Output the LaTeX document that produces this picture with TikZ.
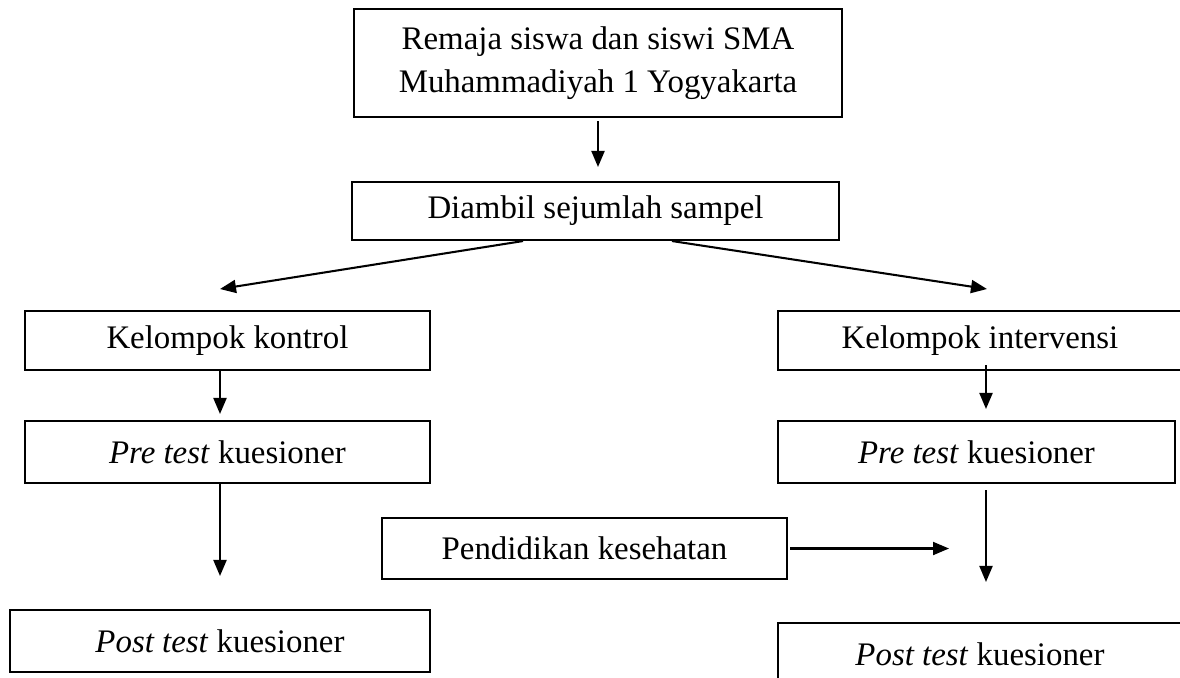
\documentclass[tikz,border=0pt]{standalone}
\usepackage{fontspec}
\setmainfont{Liberation Serif}
\usepackage{tikz}
\usetikzlibrary{positioning}
\usetikzlibrary{arrows.meta}
% one pixel of the layout
\newcommand{\pw}[1]{#1*0.365pt}
\tikzset {
  x=0.365pt, y=-0.365pt,
  % boxed step
  box/.style = {draw, rectangle, line width=0.75pt, inner sep=0pt, align=center,
    font=\fontsize{12}{15.7}\selectfont},
  % arrows between boxes
  arr/.style = {line width=0.75pt, -{Triangle[length=\pw{16}, width=\pw{13}]}},
}

\begin{document}
\begin{tikzpicture}
        \useasboundingbox (0,0) rectangle (1180,677);
        \clip (0,0) rectangle (1180,677);

        \node[box, minimum width=\pw{488}, minimum height=\pw{108}] (pop) at (598,63)
          {Remaja siswa dan siswi SMA\\Muhammadiyah 1 Yogyakarta};
        \node[box, minimum width=\pw{487}, minimum height=\pw{58}] (sampel) at (595.5,211)
          {Diambil sejumlah sampel};

        % control group
        \node[box, minimum width=\pw{405}, minimum height=\pw{59}] (kontrol) at (227.5,340.5)
          {Kelompok kontrol};
        \node[box, minimum width=\pw{405}, minimum height=\pw{62}] (preK) at (227.5,452)
          {\textit{Pre test} kuesioner};
        \node[box, minimum width=\pw{420}, minimum height=\pw{62}] (postK) at (220,641)
          {\textit{Post test} kuesioner};

        % intervention group
        \node[box, minimum width=\pw{404}, minimum height=\pw{59}] (interv) at (980,340.5)
          {Kelompok intervensi};
        \node[box, minimum width=\pw{397}, minimum height=\pw{62}] (preI) at (976.5,452)
          {\textit{Pre test} kuesioner};
        \node[box, minimum width=\pw{405}, minimum height=\pw{61}] (didik) at (584.5,548.5)
          {Pendidikan kesehatan};
        \node[box, minimum width=\pw{404}, minimum height=\pw{62}] (postI) at (980,654)
          {\textit{Post test} kuesioner};

        \coordinate (tipK) at (220,289);
        \coordinate (tipI) at (987,289);
        \coordinate (colI) at (986,0);
        \coordinate (tipD) at (949,548.5);

        \draw [arr, shorten <=\pw{3}, shorten >=\pw{14}] (pop.south) -- (pop.south |- sampel.north);
        \draw [arr] ([xshift=\pw{-72.5}]sampel.south) -- (tipK);
        \draw [arr] ([xshift=\pw{76.5}]sampel.south) -- (tipI);

        \draw [arr, shorten >=\pw{6}] (kontrol.south -| postK) -- (preK.north -| postK);
        \draw [arr, shorten >=\pw{33}] (preK.south -| postK) -- (postK.north);

        \draw [arr, shorten <=\pw{-6}, shorten >=\pw{11}] (interv.south -| colI) -- (preI.north -| colI);
        \draw [arr, shorten <=\pw{6}, shorten >=\pw{40}] (preI.south -| colI) -- (postI.north -| colI);
        \draw [arr, shorten <=\pw{2}] (didik.east) -- (tipD);
\end{tikzpicture}
\end{document}
